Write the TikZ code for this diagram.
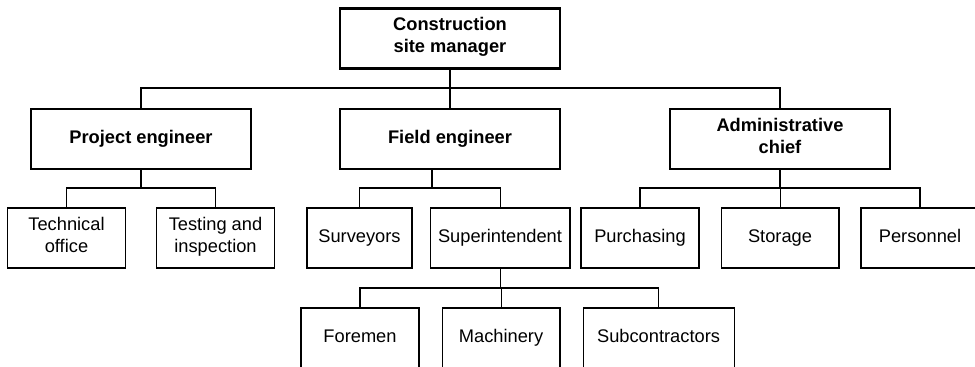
\documentclass[tikz,border=0pt]{standalone}
\usepackage{fontspec}
\setmainfont{Liberation Sans}
\usetikzlibrary{positioning}
\begin{document}
\begin{tikzpicture}[x=0.02cm,y=-0.02cm,
  every node/.style={font=\fontsize{10.4}{12.5}\selectfont,align=center,inner sep=0pt,
    execute at begin node=\strut,execute at end node=\strut},
  head node/.style={draw,line width=1.2pt,minimum width=4.4cm,minimum height=1.2cm,
    font=\fontsize{10.4}{12.5}\selectfont\bfseries},
  unit node/.style={draw,line width=0.6pt,minimum width=2.36cm,minimum height=1.2cm},
  link/.style={line width=0.6pt}]
  \useasboundingbox (0,0) rectangle (975,367);
  \clip (0,0) rectangle (975,367);

  \node[head node] (manager) at (450,38.5) {Construction\\site manager};
  \node[head node] (proj) at (141,139) {Project engineer};
  \node[head node] (field) at (450,139) {Field engineer};
  \node[head node] (admin) at (780,139) {Administrative\\chief};

  \node[unit node] (tech) at (66.5,238) {Technical\\office};
  \node[unit node] (test) [right=0.6cm of tech] {Testing and\\inspection};
  \node[unit node,minimum width=2.1cm] (surv) at (359.5,238) {Surveyors};
  \node[unit node,minimum width=2.8cm] (super) [right=0.34cm of surv] {Superintendent};
  \node[unit node] (purch) at (640,238) {Purchasing};
  \node[unit node] (storage) [right=0.42cm of purch] {Storage};
  \node[unit node] (personnel) at (920,238) {Personnel};

  \node[unit node] (foremen) at (360,338) {Foremen};
  \node[unit node] (machinery) [right=0.44cm of foremen] {Machinery};
  \node[unit node,minimum width=3.02cm] (subcon) [right=0.44cm of machinery] {Subcontractors};

  \coordinate (bus1) at (0,88);
  \coordinate (bus2) at (0,188);
  \coordinate (bus3) at (0,288);
  \coordinate (fieldjoin) at (432,188);

  % top level
  \draw[link] (manager) -- (field);
  \draw[link] (proj) |- (manager |- bus1) -| (admin);

  % project engineer
  \draw[link] (proj) -- (proj |- bus2);
  \draw[link] (tech) |- (proj |- bus2) -| (test);

  % field engineer
  \draw[link] (field.south -| fieldjoin) -- (fieldjoin);
  \draw[link] (surv) |- (fieldjoin) -| (super);

  % administrative chief
  \draw[link] (admin) -- (admin |- bus2);
  \draw[link] (purch) |- (admin |- bus2) -| (personnel);
  \draw[link] (storage) -- (storage |- bus2);

  % superintendent
  \draw[link] (super) -- (super |- bus3);
  \draw[link] (foremen) |- (super |- bus3) -| (subcon);
  \draw[link] (machinery) -- (machinery |- bus3);
\end{tikzpicture}
\end{document}
